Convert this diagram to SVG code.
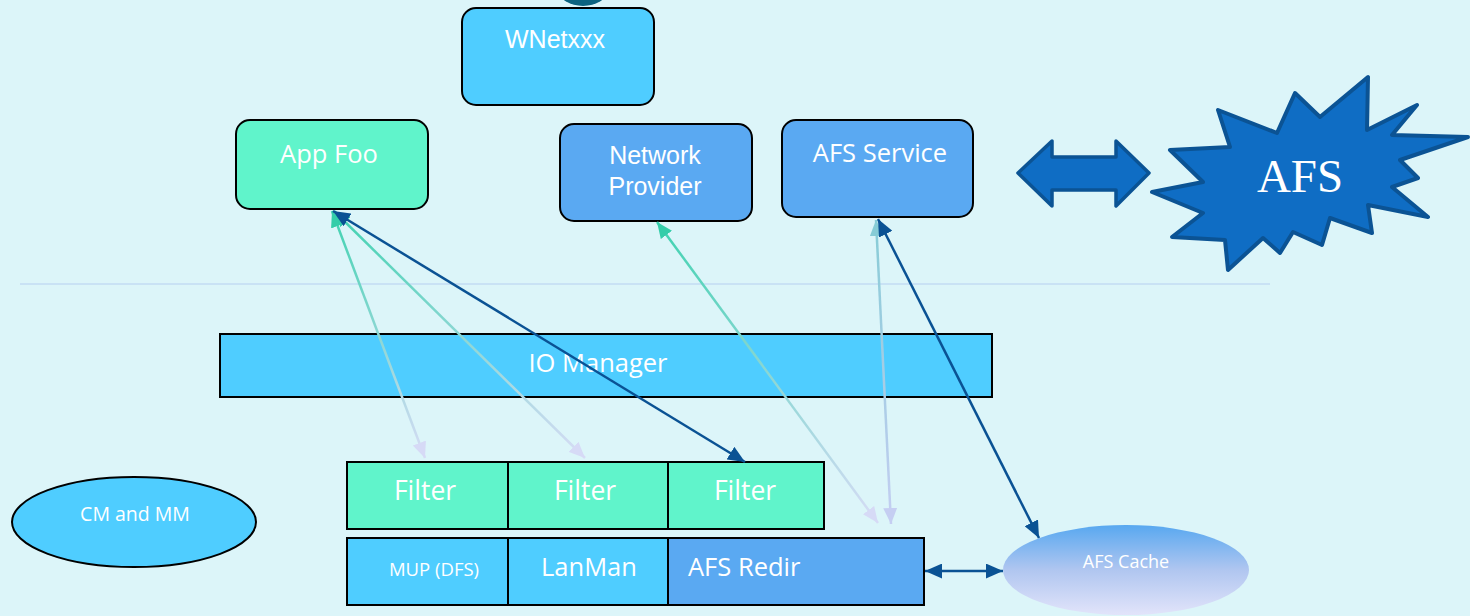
<svg xmlns="http://www.w3.org/2000/svg" width="1470" height="616" viewBox="0 0 1470 616">
<style>
.box{stroke:#000;stroke-width:2}
.cal{font-family:"Open Sans","Noto Sans",sans-serif;fill:#fff;text-anchor:middle}
.ari{font-family:"Liberation Sans",Arial,sans-serif;fill:#fff;text-anchor:middle}
.conn{fill:none;stroke-width:2.5}
</style>
<defs>
<marker id="mTeal" viewBox="0 0 16 14" refX="16" refY="7" markerWidth="16" markerHeight="14" markerUnits="userSpaceOnUse" orient="auto-start-reverse"><path d="M0,0 L16,7 L0,14 z" fill="#34CDA9"/></marker>
<marker id="mTealB" viewBox="0 0 16 14" refX="16" refY="7" markerWidth="16" markerHeight="14" markerUnits="userSpaceOnUse" orient="auto-start-reverse"><path d="M0,0 L16,7 L0,14 z" fill="#86CCD6"/></marker>
<marker id="mLav" viewBox="0 0 16 14" refX="16" refY="7" markerWidth="16" markerHeight="14" markerUnits="userSpaceOnUse" orient="auto-start-reverse"><path d="M0,0 L16,7 L0,14 z" fill="#D6DAF6"/></marker>
<marker id="mLavB" viewBox="0 0 16 14" refX="16" refY="7" markerWidth="16" markerHeight="14" markerUnits="userSpaceOnUse" orient="auto-start-reverse"><path d="M0,0 L16,7 L0,14 z" fill="#C5CEF2"/></marker>
<marker id="mDark" viewBox="0 0 16 14" refX="16" refY="7" markerWidth="17" markerHeight="15" markerUnits="userSpaceOnUse" orient="auto-start-reverse"><path d="M0,0 L16,7 L0,14 z" fill="#0A5294"/></marker>
<linearGradient id="g1" gradientUnits="userSpaceOnUse" x1="332" y1="211" x2="425" y2="458"><stop offset="0" stop-color="#3FD2B0"/><stop offset="1" stop-color="#D8DCF6"/></linearGradient>
<linearGradient id="g2" gradientUnits="userSpaceOnUse" x1="334" y1="211" x2="585" y2="458"><stop offset="0" stop-color="#3FD2B0"/><stop offset="1" stop-color="#D8DCF6"/></linearGradient>
<linearGradient id="g3" gradientUnits="userSpaceOnUse" x1="657" y1="222" x2="878" y2="523"><stop offset="0" stop-color="#3FD2B0"/><stop offset="1" stop-color="#D8DCF6"/></linearGradient>
<linearGradient id="g4" gradientUnits="userSpaceOnUse" x1="876" y1="220" x2="891" y2="524"><stop offset="0" stop-color="#86CCD6"/><stop offset="1" stop-color="#C5CEF2"/></linearGradient>
<linearGradient id="gCache" x1="0" y1="0" x2="0" y2="1"><stop offset="0" stop-color="#58A8F0"/><stop offset="0.5" stop-color="#B0C6F0"/><stop offset="1" stop-color="#E2E4FA"/></linearGradient>
</defs>
<rect width="1470" height="616" fill="#DCF5F9"/>
<ellipse cx="583" cy="-9" rx="24" ry="15" fill="#0B6380"/>
<line x1="20" y1="284" x2="1270" y2="284" stroke="#B6CFF0" stroke-width="1"/>

<g id="wnetxxx"><rect class="box" x="462" y="8" width="192" height="97" rx="14" fill="#4FCDFF"/><text class="ari" x="555" y="48" font-size="25">WNetxxx</text></g>
<g id="appfoo"><rect class="box" x="236" y="120" width="192" height="89" rx="14" fill="#60F4CB"/><text class="cal" x="329" y="163" font-size="25.5">App Foo</text></g>
<g id="netprov"><rect class="box" x="560" y="124" width="192" height="97" rx="14" fill="#5AA9F2"/><text class="ari" x="655" y="164" font-size="25">Network</text><text class="ari" x="655" y="195" font-size="25">Provider</text></g>
<g id="afsservice"><rect class="box" x="782" y="120" width="191" height="97" rx="14" fill="#5AA9F2"/><text class="cal" x="880" y="162" font-size="25.5">AFS Service</text></g>
<g id="dblarrow"><polygon points="1018,173 1052,141 1052,157 1116,157 1116,141 1149,173 1116,206 1116,190 1052,190 1052,206" fill="#0F6DC4" stroke="#0B5394" stroke-width="3.5" stroke-linejoin="round"/></g>
<g id="afs"><polygon points="1152,192 1203,182 1170,150 1230,147 1218,110 1277,133 1295,93 1320,117 1368,77 1367,130 1417,105 1392,135 1468,137 1400,160 1418,178 1392,187 1428,217 1368,205 1372,233 1330,218 1322,245 1293,232 1280,253 1263,238 1228,270 1225,240 1172,237 1203,213" fill="#0F6DC4" stroke="#0B5394" stroke-width="4" stroke-linejoin="round"/><text x="1300" y="192" font-family="'Liberation Serif','Times New Roman',serif" font-size="47" fill="#fff" text-anchor="middle">AFS</text></g>
<g id="iomanager"><rect class="box" x="220" y="334" width="772" height="63" fill="#4FCDFF"/><text class="cal" x="598" y="372" font-size="25.5">IO Manager</text></g>
<g id="filter1"><rect class="box" x="347" y="462" width="161" height="67" fill="#60F4CB"/><text class="cal" x="425" y="500" font-size="26.5">Filter</text></g>
<g id="filter2"><rect class="box" x="508" y="462" width="160" height="67" fill="#60F4CB"/><text class="cal" x="585" y="500" font-size="26.5">Filter</text></g>
<g id="filter3"><rect class="box" x="668" y="462" width="156" height="67" fill="#60F4CB"/><text class="cal" x="745" y="500" font-size="26.5">Filter</text></g>
<g id="mup"><rect class="box" x="347" y="538" width="161" height="67" fill="#4FCDFF"/><text class="cal" x="434" y="576" font-size="18.5">MUP (DFS)</text></g>
<g id="lanman"><rect class="box" x="508" y="538" width="160" height="67" fill="#4FCDFF"/><text class="cal" x="589" y="576" font-size="25.5">LanMan</text></g>
<g id="afsredir"><rect class="box" x="668" y="538" width="256" height="67" fill="#5AA9F2"/><text class="cal" x="688" y="576" font-size="25.5" style="text-anchor:start">AFS Redir</text></g>
<g id="cmmm"><ellipse class="box" cx="134" cy="522" rx="122" ry="45" fill="#4FCDFF"/><text class="cal" x="135" y="521" font-size="19.5">CM and MM</text></g>
<g id="afscache"><ellipse cx="1126" cy="570" rx="123" ry="45" fill="url(#gCache)"/><text class="cal" x="1126" y="568" font-size="18">AFS Cache</text></g>

<g id="connectors">
<line class="conn" x1="332" y1="211" x2="425" y2="458" stroke="url(#g1)" marker-start="url(#mTeal)" marker-end="url(#mLav)"/>
<line class="conn" x1="334" y1="211" x2="585" y2="458" stroke="url(#g2)" marker-start="url(#mTeal)" marker-end="url(#mLav)"/>
<line class="conn" x1="333" y1="211" x2="745" y2="462" stroke="#0A5294" marker-start="url(#mDark)" marker-end="url(#mDark)"/>
<line class="conn" x1="657" y1="222" x2="878" y2="523" stroke="url(#g3)" marker-start="url(#mTeal)" marker-end="url(#mLav)"/>
<line class="conn" x1="876" y1="220" x2="891" y2="524" stroke="url(#g4)" marker-start="url(#mTealB)" marker-end="url(#mLavB)"/>
<line class="conn" x1="878" y1="219" x2="1039" y2="538" stroke="#0A5294" marker-start="url(#mDark)" marker-end="url(#mDark)"/>
<line class="conn" x1="925" y1="571" x2="1003" y2="571" stroke="#0A5294" marker-start="url(#mDark)" marker-end="url(#mDark)"/>
</g>
</svg>
